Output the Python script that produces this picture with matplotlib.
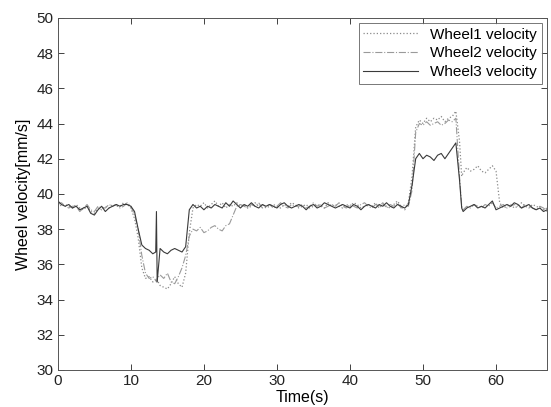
import matplotlib
matplotlib.use("Agg")
import matplotlib.pyplot as plt

plt.rcParams['font.family'] = ['Liberation Sans', 'DejaVu Sans']

time_s = [0, 0.5, 1, 1.5, 2, 2.5, 3, 3.5, 4, 4.5, 5, 5.5, 6, 6.5, 7, 7.5, 8, 8.5, 9, 9.5,
          10, 10.5, 11, 11.5, 12, 12.5, 13,
          13.4, 13.5, 13.6,
          14, 14.5, 15, 15.5, 16, 16.5, 17, 17.5, 18, 18.5, 19, 19.5, 20, 20.5, 21, 21.5,
          22, 22.5, 23, 23.5, 24, 24.5,
          25, 25.5, 26, 26.5, 27, 27.5, 28, 28.5, 29, 29.5, 30, 30.5, 31, 31.5, 32, 32.5,
          33, 33.5, 34, 34.5, 35, 35.5, 36, 36.5, 37, 37.5, 38, 38.5, 39, 39.5, 40, 40.5,
          41, 41.5, 42, 42.5, 43, 43.5, 44, 44.5, 45, 45.5, 46, 46.5, 47, 47.5,
          48, 48.5, 49, 49.5, 50, 50.5, 51, 51.5, 52, 52.5, 53, 53.5, 54, 54.5, 55,
          55.3,
          55.5, 56, 56.5, 57, 57.5, 58, 58.5, 59, 59.5, 60, 60.5, 61, 61.5, 62, 62.5, 63,
          63.5, 64, 64.5, 65, 65.5, 66, 66.5, 67]

wheel1 = [39.5, 39.3, 39.4, 39.3, 39.2, 39.4, 39.2, 39.1, 39.3, 39.0,
          38.9, 39.2, 39.1, 39.3, 39.2, 39.4, 39.3, 39.3, 39.5, 39.4,
          39.2, 38.6, 37.5, 35.8, 35.2, 35.3, 35.0,
          35.1, 35.0, 35.1,
          34.8, 34.7, 34.6, 34.9, 35.3, 34.9, 34.7, 35.5, 37.8, 39.2,
          39.4, 39.3, 39.5, 39.2, 39.4, 39.6, 39.3, 39.5, 39.2, 39.4, 39.3, 39.5,
          39.3, 39.4, 39.2, 39.3, 39.5, 39.3, 39.4, 39.2, 39.3, 39.4,
          39.3, 39.2, 39.4, 39.3, 39.5, 39.4, 39.2, 39.3, 39.4, 39.2,
          39.3, 39.4, 39.3, 39.2, 39.5, 39.3, 39.4, 39.3, 39.2, 39.4,
          39.3, 39.5, 39.4, 39.2, 39.3, 39.4, 39.3, 39.5, 39.2, 39.4,
          39.3, 39.2, 39.4, 39.6, 39.3, 39.1,
          39.5, 41.0, 43.8, 44.2, 44.0, 44.3, 44.1, 44.3, 44.2, 44.4,
          44.1, 44.3, 44.4, 44.7, 43.0,
          41.0,
          41.2, 41.5, 41.3, 41.4, 41.6, 41.3, 41.2, 41.4, 41.6, 41.3,
          39.5, 39.2, 39.3, 39.4, 39.2, 39.3, 39.5, 39.3, 39.2, 39.4,
          39.3, 39.2, 39.1, 39.2]

wheel2 = [39.4, 39.5, 39.3, 39.2, 39.3, 39.3, 39.0, 39.2, 39.4, 39.1,
          39.0, 39.3, 39.2, 39.2, 39.4, 39.3, 39.4, 39.2, 39.3, 39.5,
          39.3, 38.8, 38.0, 36.5, 35.5, 35.2, 35.3,
          35.1, 35.0, 35.2,
          35.4, 35.2, 35.5, 35.0, 34.9, 35.3, 35.8, 36.5, 37.6, 38.0,
          37.9, 38.1, 37.8, 37.9, 38.1, 38.2, 38.0, 37.9, 38.2, 38.3, 38.8, 39.3,
          39.4, 39.3, 39.2, 39.4, 39.3, 39.5, 39.2, 39.3, 39.4, 39.2,
          39.3, 39.5, 39.3, 39.2, 39.4, 39.3, 39.3, 39.4, 39.2, 39.3,
          39.5, 39.3, 39.4, 39.2, 39.3, 39.4, 39.3, 39.5, 39.3, 39.2,
          39.4, 39.3, 39.2, 39.4, 39.5, 39.3, 39.2, 39.4, 39.3, 39.5,
          39.2, 39.4, 39.3, 39.5, 39.2, 39.4,
          39.3, 40.2, 43.5, 44.0, 43.9, 44.1, 43.9, 44.0, 44.1, 43.9,
          44.0, 44.2, 44.1, 44.3, 41.0,
          39.3,
          39.1, 39.3, 39.2, 39.4, 39.3, 39.2, 39.4, 39.3, 39.5, 39.2,
          39.3, 39.4, 39.2, 39.3, 39.4, 39.3, 39.2, 39.4, 39.3, 39.2,
          39.1, 39.3, 39.2, 39.0]

wheel3 = [39.6, 39.4, 39.3, 39.4, 39.2, 39.3, 39.1, 39.2, 39.3, 38.9,
          38.8, 39.1, 39.3, 39.0, 39.2, 39.3, 39.4, 39.3, 39.4, 39.4,
          39.3, 39.0, 38.0, 37.1, 36.9, 36.8, 36.6,
          36.7, 39.0, 35.0,
          36.9, 36.7, 36.6, 36.8, 36.9, 36.8, 36.7, 37.0, 39.1, 39.4,
          39.2, 39.3, 39.1, 39.3, 39.2, 39.4, 39.3, 39.2, 39.5, 39.3, 39.6, 39.4,
          39.2, 39.4, 39.3, 39.5, 39.3, 39.2, 39.4, 39.3, 39.4, 39.3,
          39.2, 39.4, 39.5, 39.3, 39.2, 39.3, 39.4, 39.3, 39.1, 39.3,
          39.4, 39.2, 39.3, 39.5, 39.4, 39.3, 39.2, 39.3, 39.4, 39.3,
          39.2, 39.4, 39.3, 39.1, 39.3, 39.4, 39.3, 39.2, 39.4, 39.3,
          39.5, 39.3, 39.2, 39.4, 39.3, 39.2,
          39.4, 40.5, 42.0, 42.3, 42.0, 42.2, 42.1, 41.9, 42.2, 42.3,
          42.0, 42.3, 42.6, 42.9, 40.8,
          39.2,
          39.0, 39.2, 39.3, 39.4, 39.2, 39.3, 39.2, 39.4, 39.6, 39.1,
          39.2, 39.3, 39.4, 39.3, 39.5, 39.4, 39.2, 39.3, 39.4, 39.2,
          39.1, 39.2, 39.0, 39.1]

series_labels = ["Wheel1 velocity", "Wheel2 velocity", "Wheel3 velocity"]
x_ticks = [0, 10, 20, 30, 40, 50, 60]
y_ticks = [30, 32, 34, 36, 38, 40, 42, 44, 46, 48, 50]

fig = plt.figure(figsize=(5.51, 4.07), dpi=100)
ax = fig.add_axes([0.105, 0.091, 0.888, 0.865])

ax.plot(time_s, wheel1, linestyle=':', color='#8a8a8a', linewidth=0.9, label=series_labels[0])
ax.plot(time_s, wheel2, linestyle='-.', color='#9a9a9a', linewidth=0.8, label=series_labels[1])
ax.plot(time_s, wheel3, linestyle='-', color='#3a3a3a', linewidth=0.8, label=series_labels[2])

ax.set_xlim(0, 67)
ax.set_ylim(30, 50)
ax.set_xticks(x_ticks)
ax.set_yticks(y_ticks)
ax.tick_params(direction='in', top=True, right=True, length=4, width=0.6,
               labelsize=11, colors='#222222', pad=3)
for sp in ax.spines.values():
    sp.set_linewidth(0.7)
    sp.set_color('#555555')

ax.set_xlabel("Time(s)", fontsize=11.5, labelpad=1)
ax.set_ylabel("Wheel velocity[mm/s]", fontsize=11.5, labelpad=4)

leg = ax.legend(loc='upper right', fontsize=11, frameon=True, fancybox=False,
                edgecolor='#555555', borderaxespad=0.35, handlelength=3.6,
                labelspacing=0.3, borderpad=0.3)
leg.get_frame().set_linewidth(0.7)

fig.savefig("out.png", dpi=100)
